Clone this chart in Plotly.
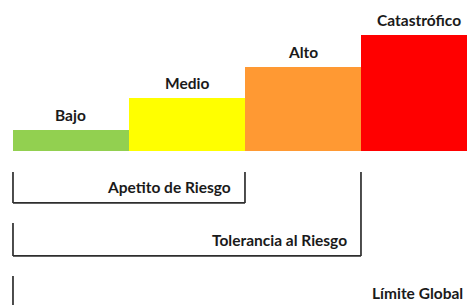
import plotly.graph_objects as go

categories = ["Bajo", "Medio", "Alto", "Catastrófico"]
levels = [2, 5, 8, 11]
colors = ["#92D050", "#FFFF00", "#FF9933", "#FF0000"]

bracket_labels = ["Apetito de Riesgo", "Tolerancia al Riesgo", "Límite Global"]
bracket_last_cat = [1, 2, 3]          # bracket spans categories 0..last
bracket_levels = [-4.95, -10.0, -15.05]  # y of the bracket base line
bracket_tops = [-2.0, -6.86, -11.9]

xs = list(range(len(categories)))

fig = go.Figure()
fig.add_trace(go.Bar(
    x=xs, y=levels, width=1,
    marker=dict(color=colors, line=dict(width=0)),
    hoverinfo="skip",
))

font = dict(family="Lato, 'Open Sans', sans-serif", size=15.5, color="#1a1a1a")
annotations = []
for i, (c, v) in enumerate(zip(categories, levels)):
    annotations.append(dict(x=i, y=v, text="<b>%s</b>" % c, showarrow=False,
                            xanchor="center", yanchor="middle", yshift=15, font=font))

shapes = []
line = dict(color="#2e2e2e", width=1.7)
left = -0.5
xpad = 12 / 116.0
ypad = 16 / 10.5
for lab, last, base, top in zip(bracket_labels, bracket_last_cat, bracket_levels, bracket_tops):
    right = last + 0.5
    shapes.append(dict(type="line", x0=left, x1=left, y0=top, y1=base, line=line))
    shapes.append(dict(type="line", x0=left, x1=right, y0=base, y1=base, line=line))
    annotations.append(dict(x=right - xpad, y=base + ypad, text="<b>%s</b>" % lab, showarrow=False,
                            xanchor="right", yanchor="middle", font=font))
# right side verticals
shapes.append(dict(type="line", x0=1.5, x1=1.5, y0=bracket_tops[0], y1=bracket_levels[0], line=line))
shapes.append(dict(type="line", x0=2.5, x1=2.5, y0=bracket_tops[0], y1=bracket_levels[1], line=line))

fig.update_layout(
    width=467, height=305,
    margin=dict(l=0, r=0, t=0, b=0),
    paper_bgcolor="white", plot_bgcolor="white",
    showlegend=False, bargap=0,
    xaxis=dict(range=[-0.612, 3.414], visible=False, fixedrange=True),
    yaxis=dict(range=[-14.67, 14.38], visible=False, fixedrange=True),
    shapes=shapes, annotations=annotations,
)
fig.write_html("out.html", config={"displayModeBar": False},
               post_script="document.body.style.margin='0';document.body.style.overflow='hidden';")
